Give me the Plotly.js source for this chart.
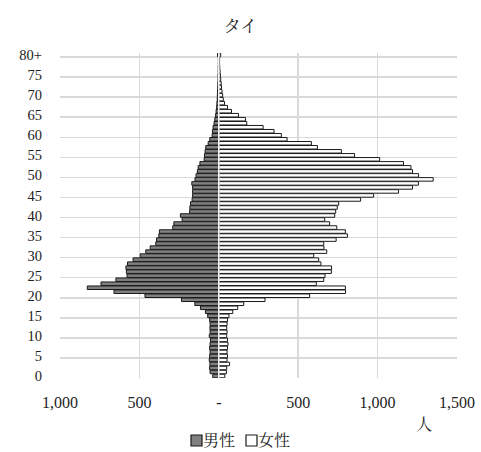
<!DOCTYPE html>
<html>
<head>
<meta charset="utf-8">
<script src="https://cdn.plot.ly/plotly-3.0.1.min.js"></script>
<style>html,body{margin:0;padding:0;background:#fff;}#chart{width:481px;height:452px;}</style>
</head>
<body>
<div id="chart"></div>
<script>
// ages 0..79 and 80+ (index 80)
const ages = Array.from({length: 81}, (_, i) => i);
const male = [38,55,58,56,60,58,55,58,55,52,60,55,56,55,58,70,84,115,151,235,465,660,828,742,648,578,582,585,575,540,495,460,432,397,392,378,374,290,283,231,242,184,182,178,168,165,165,165,170,150,143,135,130,119,92,90,86,82,67,57,42,40,36,30,25,20,17,14,12,10,9,8,7,6,5,5,4,4,3,3,8];
const female = [38,48,50,68,52,55,52,55,58,55,50,52,50,52,55,64,88,119,157,291,572,798,797,614,661,669,709,710,643,629,598,680,662,661,739,810,797,743,698,667,730,736,746,755,893,975,1132,1220,1257,1350,1258,1220,1210,1163,1013,855,772,621,583,430,394,348,279,176,168,124,80,55,36,28,24,20,17,15,12,10,8,6,5,5,12];
const yTickVals = [0,5,10,15,20,25,30,35,40,45,50,55,60,65,70,75,80];
const yTickText = ["0","5","10","15","20","25","30","35","40","45","50","55","60","65","70","75","80+"];
const xTickVals = [-1000,-500,0,500,1000,1500];
const xTickText = ["1,000","500","-","500","1,000","1,500"];
const seriesNames = ["男性","女性"];
const seriesFill = ['#808080', '#ffffff'];
const titleText = "タイ";
const unitText = "人";

const FONT = "'Liberation Serif', 'Noto Serif CJK JP', 'Noto Sans CJK JP', serif";
const W = 481, H = 452, ML = 60, MR = 24, MT = 53, MB = 74;
const PW = W - ML - MR, PH = H - MT - MB;
const px = x => (x - ML) / PW;       // pixel -> paper x
const py = y => (H - MB - y) / PH;   // pixel -> paper y

const traces = [
  {
    type: 'bar', orientation: 'h', name: seriesNames[0],
    y: ages, x: male.map(v => -v),
    marker: {color: seriesFill[0], line: {color: '#1a1a1a', width: 1}},
    hoverinfo: 'skip', showlegend: false
  },
  {
    type: 'bar', orientation: 'h', name: seriesNames[1],
    y: ages, x: female,
    marker: {color: seriesFill[1], line: {color: '#1a1a1a', width: 1}},
    hoverinfo: 'skip', showlegend: false
  }
];

const gridVals = yTickVals.map(v => v - 0.5);

// legend keys (symbols + labels)
const legendBoxes = [[191, 202], [246, 257]];
const legendTextX = [219, 274];

const shapes = [
  {type: 'line', xref: 'x', yref: 'paper', x0: 0, x1: 0, y0: 0, y1: 1.005, line: {color: '#ffffff', width: 1.5}, layer: 'above'}
];
legendBoxes.forEach((b, i) => {
  shapes.push({type: 'rect', xref: 'paper', yref: 'paper', x0: px(b[0]), x1: px(b[1]), y0: py(446), y1: py(435),
    fillcolor: seriesFill[i], line: {color: '#1a1a1a', width: 1.2}});
});

const annotations = [
  {text: unitText, xref: 'paper', yref: 'paper', x: px(424), y: py(424), xanchor: 'center', yanchor: 'middle', showarrow: false, font: {family: FONT, size: 16, color: '#222'}}
];
seriesNames.forEach((n, i) => {
  annotations.push({text: n, xref: 'paper', yref: 'paper', x: px(legendTextX[i]), y: py(440), xanchor: 'center', yanchor: 'middle', showarrow: false, font: {family: FONT, size: 16, color: '#222'}});
});

const layout = {
  width: W, height: H,
  margin: {l: ML, r: MR, t: MT, b: MB, autoexpand: false},
  paper_bgcolor: '#fff', plot_bgcolor: '#fff',
  barmode: 'overlay', bargap: 0.12,
  font: {family: FONT, color: '#222', size: 14},
  title: {text: titleText, x: 0.5, xanchor: 'center', y: 1 - 26/H, yanchor: 'middle', font: {family: FONT, size: 17, color: '#222'}},
  showlegend: false,
  xaxis: {
    range: [-1000, 1500], tickmode: 'array', tickvals: xTickVals, ticktext: xTickText,
    showgrid: true, gridcolor: '#d9d9d9', gridwidth: 1.5, zeroline: false,
    showline: false, ticks: '', ticklabelstandoff: 13,
    tickfont: {family: FONT, size: 16, color: '#222'}, fixedrange: true
  },
  yaxis: {
    range: [-0.5, 80.5], tickmode: 'array', tickvals: yTickVals, ticktext: yTickText,
    showgrid: false, zeroline: false, showline: false, ticks: '', ticklabelstandoff: 17,
    tickfont: {family: FONT, size: 14.5, color: '#222'},
    minor: {tickmode: 'array', tickvals: gridVals, showgrid: true, gridcolor: '#d9d9d9', gridwidth: 1.5, ticks: ''},
    fixedrange: true
  },
  shapes: shapes,
  annotations: annotations
};

Plotly.newPlot('chart', traces, layout, {displayModeBar: false, staticPlot: true});
</script>
</body>
</html>
